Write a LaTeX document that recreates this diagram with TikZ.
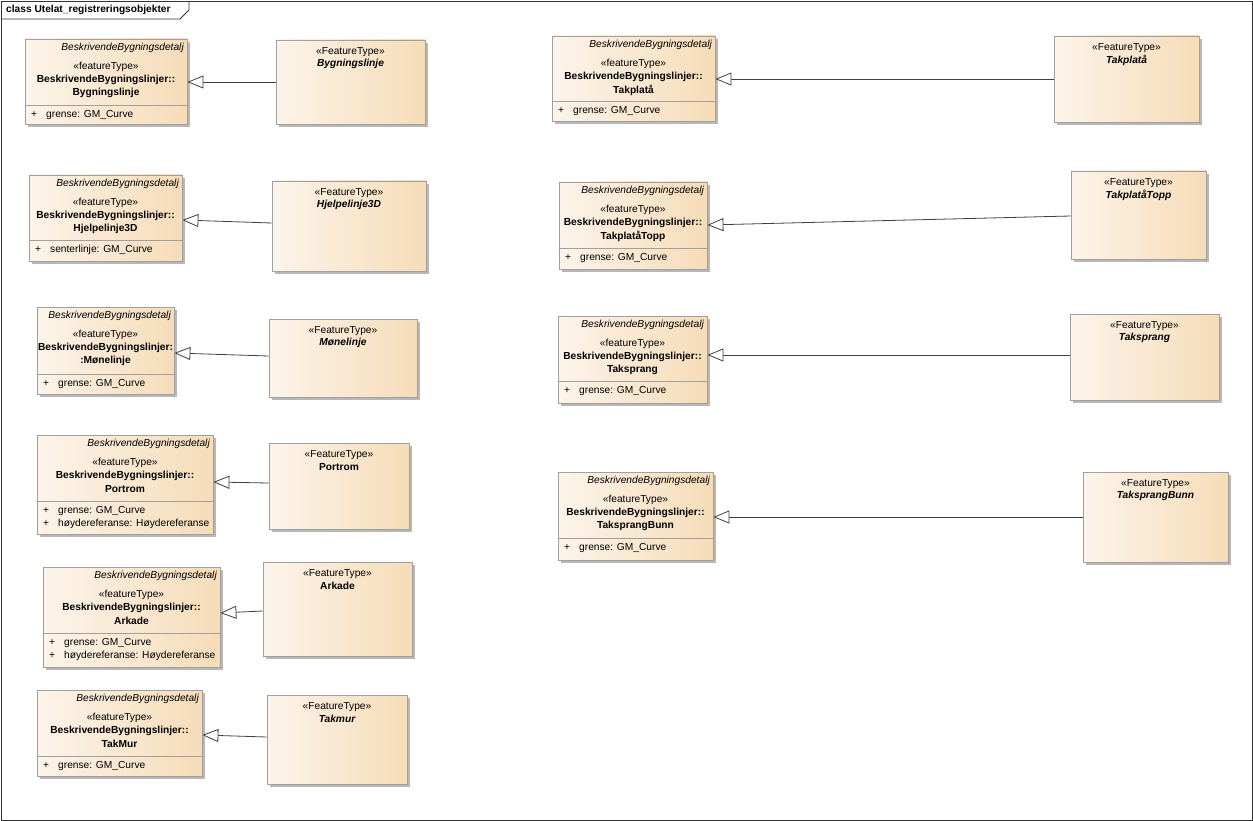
\documentclass[tikz,border=0pt]{standalone}
\usepackage{fontspec}
\setmainfont{Liberation Sans}
\usetikzlibrary{arrows.meta,shadows,fit}
\definecolor{boxL}{HTML}{FCF4EA}
\definecolor{boxR}{HTML}{F6DCB8}
\definecolor{boxB}{HTML}{A0A0A0}
\definecolor{shad}{HTML}{B8B8B8}
\definecolor{lineC}{HTML}{404040}
\tikzset{
  umlbox/.style={draw=boxB, line width=0.8pt, left color=boxL, right color=boxR, inner sep=0pt,
    drop shadow={shadow xshift=3pt, shadow yshift=-3pt, fill=shad, opacity=1}},
  txt/.style={inner sep=0pt, font=\fontsize{10.2}{13}\selectfont, text=black},
  itxt/.style={txt, font=\fontsize{10.2}{13}\selectfont\itshape},
  btxt/.style={txt, font=\fontsize{10.2}{13}\selectfont\bfseries},
  bitxt/.style={txt, font=\fontsize{10.2}{13}\selectfont\bfseries\itshape},
  divline/.style={draw=boxB, line width=0.8pt},
  gen/.style={draw=lineC, line width=0.8pt, -{Triangle[open, length=16pt, width=13pt, fill=white]}},
  frameline/.style={draw=black!80, line width=0.8pt},
}
% id x1 y1 x2 y2 ydiv line1 line2 attrs
\newcommand\umlclass[9]{%
  \node[umlbox, fit={(#2,#3) (#4,#5)}] (#1) {};
  \node[itxt, anchor=east] (#1-a) at ({#4-3},{#3+9}) {BeskrivendeBygningsdetalj};
  \node[txt] (#1-s) at ({(#2+#4)/2},{#3+28}) {«featureType»};
  \node[btxt] (#1-n1) at ({(#2+#4)/2},{#3+41}) {#7};
  \node[btxt] (#1-n2) at ({(#2+#4)/2},{#3+54}) {#8};
  \draw[divline] (#1.west |- 0,#6) -- (#1.east |- 0,#6);
  \foreach \att [count=\i] in {#9} {
    \node[txt, anchor=west] (#1-p\i) at ({#2+6},{#6+10+13*(\i-1)}) {+};
    \node[txt, anchor=west] (#1-t\i) at ({#2+21},{#6+10+13*(\i-1)}) {\att};
  }
}
% id x1 y1 x2 y2 style name
\newcommand\ftbox[7]{%
  \node[umlbox, fit={(#2,#3) (#4,#5)}] (#1) {};
  \node[txt] (#1-s) at ({(#2+#4)/2},{#3+12}) {«FeatureType»};
  \node[#6] (#1-n) at ({(#2+#4)/2},{#3+24}) {#7};
}
\begin{document}
\begin{tikzpicture}[x=1pt, y=-1pt]
\useasboundingbox (0,0) rectangle (1253,821);
\fill[white] (0,0) rectangle (1253,821);
\draw[frameline] (1,1) rectangle (1252,820);
\draw[frameline] (1,19) -- (180,19) -- (189,10) -- (189,1);
\node[btxt, anchor=west] (title) at (6,10) {class Utelat\_registreringsobjekter};

% left column
\umlclass{c1}{25}{39}{187}{124}{105}{BeskrivendeBygningslinjer::}{Bygningslinje}{grense: GM\_Curve}
\ftbox{f1}{276}{40}{425}{124}{bitxt}{Bygningslinje}
\umlclass{c2}{29}{175}{182}{261}{240}{BeskrivendeBygningslinjer::}{Hjelpelinje3D}{senterlinje: GM\_Curve}
\ftbox{f2}{272}{181}{426}{271}{bitxt}{Hjelpelinje3D}
\umlclass{c3}{37}{307}{174}{394}{374}{BeskrivendeBygningslinjer:}{:Mønelinje}{grense: GM\_Curve}
\ftbox{f3}{269}{319}{417}{397}{bitxt}{Mønelinje}
\umlclass{c4}{37}{435}{213}{534}{501}{BeskrivendeBygningslinjer::}{Portrom}{grense: GM\_Curve, høydereferanse: Høydereferanse}
\ftbox{f4}{269}{443}{409}{529}{btxt}{Portrom}
\umlclass{c5}{43}{567}{220}{667}{633}{BeskrivendeBygningslinjer::}{Arkade}{grense: GM\_Curve, høydereferanse: Høydereferanse}
\ftbox{f5}{263}{562}{412}{656}{btxt}{Arkade}
\umlclass{c6}{37}{690}{202}{776}{756}{BeskrivendeBygningslinjer::}{TakMur}{grense: GM\_Curve}
\ftbox{f6}{267}{695}{407}{784}{bitxt}{Takmur}

% right column
\umlclass{c7}{552}{36}{715}{121}{101}{BeskrivendeBygningslinjer::}{Takplatå}{grense: GM\_Curve}
\ftbox{f7}{1054}{36}{1199}{122}{bitxt}{Takplatå}
\umlclass{c8}{559}{182}{707}{269}{248}{BeskrivendeBygningslinjer::}{TakplatåTopp}{grense: GM\_Curve}
\ftbox{f8}{1071}{171}{1206}{259}{bitxt}{TakplatåTopp}
\umlclass{c9}{558}{316}{707}{403}{381}{BeskrivendeBygningslinjer::}{Taksprang}{grense: GM\_Curve}
\ftbox{f9}{1070}{314}{1219}{400}{bitxt}{Taksprang}
\umlclass{c10}{558}{472}{713}{560}{538}{BeskrivendeBygningslinjer::}{TaksprangBunn}{grense: GM\_Curve}
\ftbox{f10}{1083}{472}{1228}{562}{bitxt}{TaksprangBunn}

% generalisations
\draw[gen] (f1.west |- 0,82) -- (c1.east |- 0,82);
\draw[gen] (f2.west |- 0,223) -- (c2.east |- 0,220);
\draw[gen] (f3.west |- 0,356) -- (c3.east |- 0,353);
\draw[gen] (f4.west |- 0,483) -- (c4.east |- 0,482);
\draw[gen] (f5.west |- 0,611) -- (c5.east |- 0,613);
\draw[gen] (f6.west |- 0,737) -- (c6.east |- 0,735);
\draw[gen] (f7.west |- 0,79) -- (c7.east |- 0,79);
\draw[gen] (f8.west |- 0,216) -- (c8.east |- 0,225);
\draw[gen] (f9.west |- 0,355) -- (c9.east |- 0,355);
\draw[gen] (f10.west |- 0,517) -- (c10.east |- 0,517);
\end{tikzpicture}
\end{document}
